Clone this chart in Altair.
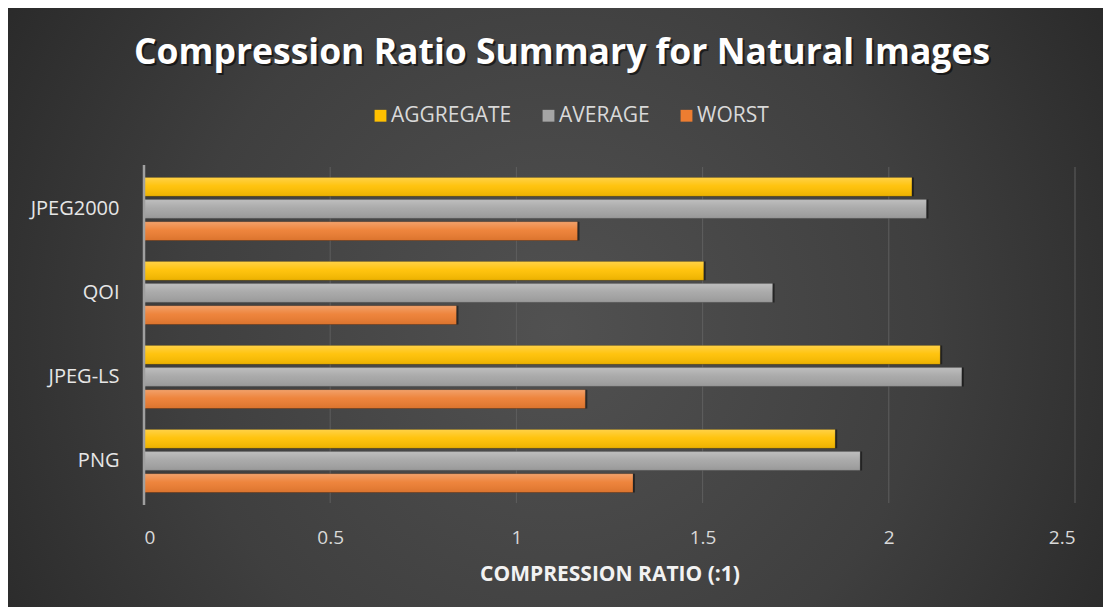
import altair as alt
import pandas as pd

categories = ["JPEG2000", "QOI", "JPEG-LS", "PNG"]
series = ["AGGREGATE", "AVERAGE", "WORST"]
aggregate = [2.062, 1.503, 2.138, 1.856]
average = [2.101, 1.688, 2.196, 1.923]
worst = [1.164, 0.839, 1.185, 1.313]
series_colors = ["#FFC000", "#A5A5A5", "#ED7D31"]
x_ticks = [0, 0.5, 1, 1.5, 2, 2.5]
title_text = "Compression Ratio Summary for Natural Images"
x_title = "COMPRESSION RATIO (:1)"

rows = []
for i, c in enumerate(categories):
    for s, vals in zip(series, [aggregate, average, worst]):
        rows.append({"codec": c, "series": s, "ratio": vals[i]})
df = pd.DataFrame(rows)

W, H = 931, 336
PL, PT = 136, 159
PR = 1095 - PL - W
PB = 599 - PT - H

x_scale = alt.Scale(domain=[0, 2.5], nice=False, zero=True)

base = alt.Chart(df)

x_enc = alt.X("ratio:Q", scale=x_scale,
              axis=alt.Axis(values=x_ticks, title=x_title, grid=False, domain=False,
                            ticks=False, labelPadding=25, labelFontSize=19,
                            labelColor="#d9d9d9", labelFont="Open Sans",
                            titleFont="Open Sans", titleFontSize=21, titleFontWeight="bold",
                            titleColor="#f2f2f2", titlePadding=16, zindex=1,
                            labelExpr="datum.value"))
y_enc = alt.Y("codec:N", sort=categories,
              scale=alt.Scale(paddingInner=0.25, paddingOuter=0.125),
              axis=alt.Axis(title=None, ticks=False, labelPadding=25, labelFontSize=20,
                            labelColor="#e6e6e6", labelFont="Open Sans",
                            domain=False, grid=False, zindex=1))
yoff_enc = alt.YOffset("series:N", sort=series,
                       scale=alt.Scale(paddingInner=0.15, paddingOuter=0.0))

bg = alt.Chart(alt.Data(values=[{}])).mark_rect(
    color={"gradient": "radial", "x1": 0.5, "y1": 0.52, "r1": 0.0,
           "x2": 0.5, "y2": 0.52, "r2": 0.62,
           "stops": [{"offset": 0, "color": "#515151"},
                     {"offset": 0.55, "color": "#3f3f3f"},
                     {"offset": 1, "color": "#272727"}]}
).encode(x=alt.value(-PL), x2=alt.value(W + PR), y=alt.value(-PT), y2=alt.value(H + PB))

grid_df = pd.DataFrame({"v": x_ticks[1:]})
grid = alt.Chart(grid_df).mark_rule(color="#5e5e5e", strokeWidth=1).encode(
    x=alt.X("v:Q", scale=x_scale), y=alt.value(0), y2=alt.value(H))

shadow = base.mark_bar(color="#000000", opacity=0.45, xOffset=2, yOffset=3).encode(
    x=x_enc, y=y_enc, yOffset=yoff_enc)

bars = base.mark_bar(stroke="#000000", strokeOpacity=0.25, strokeWidth=0.6).encode(
    x=x_enc, y=y_enc, yOffset=yoff_enc,
    color=alt.Color("series:N", sort=series,
                    scale=alt.Scale(domain=series, range=series_colors),
                    legend=alt.Legend(title=None, orient="none", direction="horizontal",
                                      legendX=226, legendY=-62, symbolType="square",
                                      symbolSize=140, symbolStrokeWidth=0,
                                      labelFont="Open Sans", labelFontSize=21,
                                      labelColor="#d9d9d9", columnPadding=26,
                                      labelOffset=0)))

shine = base.mark_bar(
    color={"gradient": "linear", "x1": 0, "y1": 0, "x2": 0, "y2": 1,
           "stops": [{"offset": 0, "color": "rgba(255,255,255,0.28)"},
                     {"offset": 0.45, "color": "rgba(255,255,255,0.06)"},
                     {"offset": 1, "color": "rgba(0,0,0,0.08)"}]}
).encode(x=x_enc, y=y_enc, yOffset=yoff_enc)

zero_df = pd.DataFrame({"v": [0]})
zero_line = alt.Chart(zero_df).mark_rule(color="#a0a0a0", strokeWidth=2.5).encode(
    x=alt.X("v:Q", scale=x_scale), y=alt.value(-2), y2=alt.value(H + 2))

title_df = alt.Data(values=[{"t": title_text}])
TY = 64 - (8 + PT)
TX = 562 - (8 + PL)
title_shadow = alt.Chart(title_df).mark_text(
    font="Open Sans", fontSize=35.5, fontWeight="bold", color="#000000", opacity=0.55,
    align="center", baseline="alphabetic", dx=2, dy=2
).encode(text="t:N", x=alt.value(TX), y=alt.value(TY))
title_mark = alt.Chart(title_df).mark_text(
    font="Open Sans", fontSize=35.5, fontWeight="bold", color="#ffffff",
    align="center", baseline="alphabetic"
).encode(text="t:N", x=alt.value(TX), y=alt.value(TY))

chart = alt.layer(bg, grid, shadow, bars, shine, zero_line, title_shadow, title_mark).properties(
    width=W, height=H,
    autosize=alt.AutoSizeParams(type="none"),
    padding={"left": PL, "top": PT, "right": PR, "bottom": PB},
    background="#2e2e2e",
).configure_view(stroke=None)

chart.save("out.html", embed_options={"renderer": "svg", "actions": False})
